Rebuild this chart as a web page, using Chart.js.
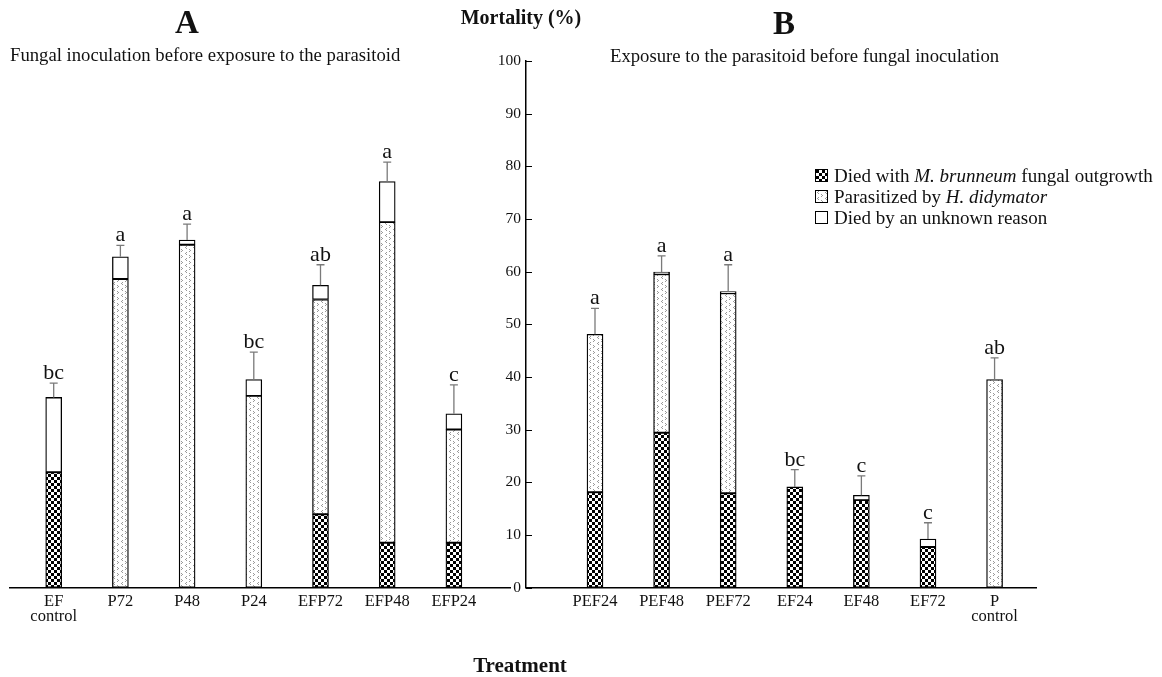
<!DOCTYPE html>
<html lang="en">
<head>
<meta charset="utf-8">
<script src="https://cdn.jsdelivr.net/npm/chart.js"></script>
<style>
  html, body { margin: 0; padding: 0; background: #fff; }
  body {
    width: 1162px; height: 677px; position: relative; overflow: hidden;
    font-family: "Liberation Serif", "Times New Roman", serif; color: #111;
  }
  .lbl { position: absolute; white-space: nowrap; line-height: 1; }
  .big { font-weight: bold; font-size: 33px; transform: translateX(-50%); }
  .head { font-weight: bold; font-size: 20px; transform: translateX(-50%); }
  .sub { font-size: 18.7px; }
  #chartA { position: absolute; left: 0; top: 0; }
  #chartB { position: absolute; left: 460px; top: 0; }
  .legend { position: absolute; left: 815px; top: 165px; font-size: 19px; line-height: 21px; }
  .legend .sw {
    display: inline-block; width: 11px; height: 11px; border: 1px solid #000;
    margin-right: 6px; vertical-align: 0px; background-color: #fff;
  }
</style>
</head>
<body>

<canvas id="chartA" width="520" height="677"></canvas>
<canvas id="chartB" width="702" height="677"></canvas>

<div class="lbl big" style="left:187px; top:6px">A</div>
<div class="lbl big" style="left:784px; top:7px">B</div>
<div class="lbl head" style="left:521px; top:7px">Mortality (%)</div>
<div class="lbl sub" style="left:10px; top:46px">Fungal inoculation before exposure to the parasitoid</div>
<div class="lbl sub" style="left:610px; top:47px">Exposure to the parasitoid before fungal inoculation</div>
<div class="lbl head" style="left:520px; top:655px; font-size:21px">Treatment</div>

<div class="legend">
  <div><span class="sw" id="swFungal"></span>Died with <i>M. brunneum</i> fungal outgrowth</div>
  <div><span class="sw" id="swParasit"></span>Parasitized by <i>H. didymator</i></div>
  <div><span class="sw"></span>Died by an unknown reason</div>
</div>

<script>
// panel A: fungal inoculation first
const labelsA = [['EF', 'control'], 'P72', 'P48', 'P24', 'EFP72', 'EFP48', 'EFP24'];
const fungalA = [21.9, 0, 0, 0, 13.9, 8.5, 8.5];
const parasitA = [0, 58.6, 65.1, 36.4, 40.8, 60.9, 21.5];
const unknownA = [14.2, 4.2, 0.9, 3.1, 2.7, 7.7, 3.0];
const seA = [2.7, 2.2, 3.0, 5.2, 3.9, 3.7, 5.5];
const lettersA = ['bc', 'a', 'a', 'bc', 'ab', 'a', 'c'];

// panel B: parasitoid exposure first
const labelsB = ['PEF24', 'PEF48', 'PEF72', 'EF24', 'EF48', 'EF72', ['P', 'control']];
const fungalB = [18.1, 29.4, 17.9, 19.1, 16.6, 7.7, 0];
const parasitB = [30.0, 30.1, 38.0, 0, 0, 0, 39.5];
const unknownB = [0, 0.4, 0.3, 0, 0.9, 1.5, 0];
const seB = [4.9, 3.1, 5.1, 3.3, 3.7, 3.1, 4.1];
const lettersB = ['a', 'a', 'a', 'bc', 'c', 'c', 'ab'];

const yTicks = [0, 10, 20, 30, 40, 50, 60, 70, 80, 90, 100];

Chart.defaults.font.family = '"Liberation Serif", "Times New Roman", serif';
Chart.defaults.color = '#111';

// small fill tiles: checkerboard and a light speckle
function makeTile(kind) {
  const c = document.createElement('canvas');
  const g = c.getContext('2d');
  if (kind === 'checker') {
    c.width = 6; c.height = 6;
    g.fillStyle = '#fff'; g.fillRect(0, 0, 6, 6);
    g.fillStyle = '#000';
    g.fillRect(0, 0, 3, 3);
    g.fillRect(3, 3, 3, 3);
  } else {
    c.width = 8; c.height = 6;
    g.fillStyle = '#fff'; g.fillRect(0, 0, 8, 6);
    g.fillStyle = '#999';
    [[2, 0], [1, 1], [2, 2], [5, 3], [6, 4], [5, 5]].forEach(p => g.fillRect(p[0], p[1], 1, 1));
  }
  return c;
}

const checkerTile = makeTile('checker');
const speckleTile = makeTile('speckle');
const checker = document.createElement('canvas').getContext('2d').createPattern(checkerTile, 'repeat');
const speckle = document.createElement('canvas').getContext('2d').createPattern(speckleTile, 'repeat');
document.getElementById('swFungal').style.backgroundImage = 'url(' + checkerTile.toDataURL() + ')';
document.getElementById('swParasit').style.backgroundImage = 'url(' + speckleTile.toDataURL() + ')';

function sumOf(a, b, c) {
  return a.map((v, i) => v + b[i] + c[i]);
}

// error bars and significance letters above each stack
const marks = {
  id: 'marks',
  afterDatasetsDraw(chart, args, opts) {
    const { ctx, scales: { x, y } } = chart;
    ctx.save();
    opts.totals.forEach((t, i) => {
      const px = x.getPixelForValue(i);
      const top = y.getPixelForValue(t);
      const end = y.getPixelForValue(t + opts.se[i]);
      ctx.strokeStyle = '#7a7a7a';
      ctx.lineWidth = 1.3;
      ctx.beginPath();
      ctx.moveTo(px, top); ctx.lineTo(px, end);
      ctx.moveTo(px - 4, end); ctx.lineTo(px + 4, end);
      ctx.stroke();
      ctx.fillStyle = '#111';
      ctx.font = '22px "Liberation Serif", serif';
      ctx.textAlign = 'center';
      ctx.textBaseline = 'alphabetic';
      ctx.fillText(opts.letters[i], px, end - 4);
    });
    ctx.restore();
  }
};

// y ticks in panel B point into the plot
const innerTicks = {
  id: 'innerTicks',
  afterDraw(chart, args, opts) {
    if (!opts.on) return;
    const { ctx, chartArea, scales: { y } } = chart;
    ctx.save();
    ctx.strokeStyle = '#000';
    ctx.lineWidth = 1;
    y.ticks.forEach(t => {
      const py = Math.round(y.getPixelForValue(t.value)) + 0.5;
      ctx.beginPath();
      ctx.moveTo(chartArea.left, py);
      ctx.lineTo(chartArea.left + 6, py);
      ctx.stroke();
    });
    ctx.restore();
  }
};

function datasets(fungal, parasit, unknown) {
  const base = { borderColor: '#000', borderWidth: 1.3, borderSkipped: false, barThickness: 16 };
  const pts = arr => arr.map((v, i) => ({ x: i, y: v || null }));
  return [
    Object.assign({ label: 'Died with M. brunneum fungal outgrowth', data: pts(fungal), backgroundColor: checker }, base),
    Object.assign({ label: 'Parasitized by H. didymator', data: pts(parasit), backgroundColor: speckle }, base),
    Object.assign({ label: 'Died by an unknown reason', data: pts(unknown), backgroundColor: '#fff' }, base)
  ];
}

function makeChart(id, labels, fungal, parasit, unknown, se, letters, xRange, padding, showY) {
  return new Chart(document.getElementById(id), {
    type: 'bar',
    data: { datasets: datasets(fungal, parasit, unknown) },
    options: {
      responsive: false,
      animation: false,
      layout: { padding: padding, autoPadding: false },
      plugins: {
        legend: { display: false },
        tooltip: { enabled: false },
        marks: { totals: sumOf(fungal, parasit, unknown), se: se, letters: letters },
        innerTicks: { on: showY }
      },
      scales: {
        x: {
          type: 'linear',
          stacked: true,
          offset: false,
          min: xRange[0],
          max: xRange[1],
          grid: { display: false, drawTicks: false },
          border: { display: true, color: '#000', width: 1.5 },
          afterBuildTicks: s => { s.ticks = labels.map((_, i) => ({ value: i })); },
          afterFit: s => { s.height = 89.5; },
          ticks: {
            padding: 6,
            maxRotation: 0,
            autoSkip: false,
            font: { size: 16.5, lineHeight: 0.95 },
            color: '#111',
            callback: v => labels[v]
          }
        },
        y: {
          display: showY,
          stacked: true,
          min: 0,
          max: 100,
          grid: { display: false, drawTicks: false },
          border: { display: true, color: '#000', width: 1.5 },
          afterBuildTicks: s => { s.ticks = yTicks.map(v => ({ value: v })); },
          afterFit: s => { s.width = showY ? 66 : 0; },
          ticks: { padding: 5, font: { size: 15.5 }, color: '#111' }
        }
      }
    },
    plugins: [marks, innerTicks]
  });
}

makeChart('chartA', labelsA, fungalA, parasitA, unknownA, seA, lettersA,
  [-0.655, 6.841], { left: 10, right: 10, top: 61, bottom: 0 }, false);
makeChart('chartB', labelsB, fungalB, parasitB, unknownB, seB, lettersB,
  [-1.036, 6.622], { left: 0, right: 126, top: 61, bottom: 0 }, true);
</script>
</body>
</html>
